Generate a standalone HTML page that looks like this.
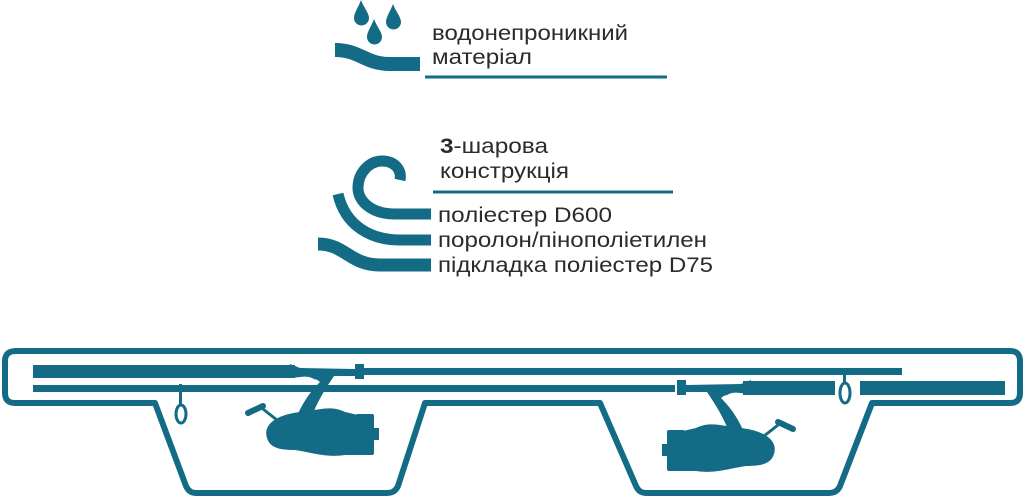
<!DOCTYPE html>
<html><head><meta charset="utf-8"><style>
html,body{margin:0;padding:0;background:#fff;}
svg{display:block}
text{font-family:"Liberation Sans",Arial,sans-serif;fill:#2b2b2b;font-size:21px}
</style></head><body>
<svg width="1027" height="499" viewBox="0 0 1027 499" xmlns="http://www.w3.org/2000/svg">
<g fill="#136b85">
<path d="M361,0 C364,8 369,13 369,18 A7.5,7.5 0 0 1 354,18 C354,13 358,8 361,0Z"/>
<path d="M374,19 C377,27 382,32 382,37 A7.5,7.5 0 0 1 367,37 C367,32 371,27 374,19Z"/>
<path d="M393,4 C396,12 401,17 401,22 A7.5,7.5 0 0 1 386,22 C386,17 390,12 393,4Z"/>
</g>
<g fill="none" stroke="#136b85">
<path d="M335,50 C360,50 365,64 390,64 L420,64" stroke-width="14"/>
<line x1="425" y1="77" x2="667" y2="77" stroke-width="3"/>
<line x1="433" y1="192" x2="673" y2="192" stroke-width="3"/>
<path d="M431,214 L395,214 C370,214 358,200 358,188 C358,172 370,161 382,161 C395,161 402,170 400,180" stroke-width="11"/>
<path d="M338,194 C345,225 370,240 400,240 L431,240" stroke-width="11"/>
<path d="M318,244 C345,244 350,265 380,265 L431,265" stroke-width="13"/>
</g>
<text x="432" y="40" textLength="196" lengthAdjust="spacingAndGlyphs">водонепроникний</text>
<text x="432" y="64" textLength="100" lengthAdjust="spacingAndGlyphs">матеріал</text>
<text x="440" y="153" textLength="108" lengthAdjust="spacingAndGlyphs"><tspan font-weight="bold">3</tspan>-шарова</text>
<text x="440" y="178" textLength="129" lengthAdjust="spacingAndGlyphs">конструкція</text>
<text x="438" y="222" textLength="174" lengthAdjust="spacingAndGlyphs">поліестер D600</text>
<text x="438" y="247" textLength="269" lengthAdjust="spacingAndGlyphs">поролон/пінополіетилен</text>
<text x="438" y="272" textLength="275" lengthAdjust="spacingAndGlyphs">підкладка поліестер D75</text>

<path d="M16,351 L1010,351 Q1020,351 1020,361 L1020,393 Q1020,403 1010,403 L872,403 L840,486 Q837,493 829,493 L646,493 Q639,493 636,486 L600,403 L425,403 L398,486 Q395,493 387,493 L196,493 Q189,493 186,486 L155,403 L15,403 Q5,403 5,393 L5,361 Q5,351 16,351Z" fill="none" stroke="#136b85" stroke-width="6" stroke-linejoin="round"/>

<g fill="#136b85" stroke="none">
<rect x="33" y="365" width="262" height="13"/>
<rect x="33" y="385" width="642" height="7"/>
<rect x="360" y="368" width="542" height="7"/>
<rect x="743" y="381" width="92" height="14"/>
<rect x="860" y="381" width="145" height="14"/>
<rect x="179" y="384" width="3" height="22"/>
<ellipse cx="181" cy="414" rx="5" ry="9" fill="none" stroke="#136b85" stroke-width="3"/>
<rect x="843" y="372" width="3" height="12"/>
<ellipse cx="845" cy="393" rx="5" ry="10" fill="none" stroke="#136b85" stroke-width="3"/>
</g>

<g id="reel" fill="#136b85">
<path d="M290,364 L300,368 L355,369 L355,376 L334,376 C326,378 318,382 312,378 C305,375 298,378 290,378Z"/>
<path d="M312,376 L334,376 C326,388 318,400 312,416 L297,416 C304,400 312,390 320,382Z"/>
<rect x="355" y="364" width="9" height="15"/>
<path d="M267,438 C263,425 275,415 300,412 C320,410 330,405 345,412 L358,415 L358,455 L345,455 C325,458 310,452 295,450 C280,450 270,448 267,438Z"/>
<rect x="356" y="414" width="18" height="41" rx="2"/>
<rect x="372" y="428" width="7" height="12"/>
<line x1="263" y1="409" x2="282" y2="424" stroke="#136b85" stroke-width="3"/>
<line x1="248" y1="413" x2="263" y2="406" stroke="#136b85" stroke-width="6" stroke-linecap="round"/>
</g>
<use href="#reel" transform="translate(1041,16) scale(-1,1)"/>
<rect x="743" y="381" width="92" height="14" fill="#136b85"/>
</svg>
</body></html>
